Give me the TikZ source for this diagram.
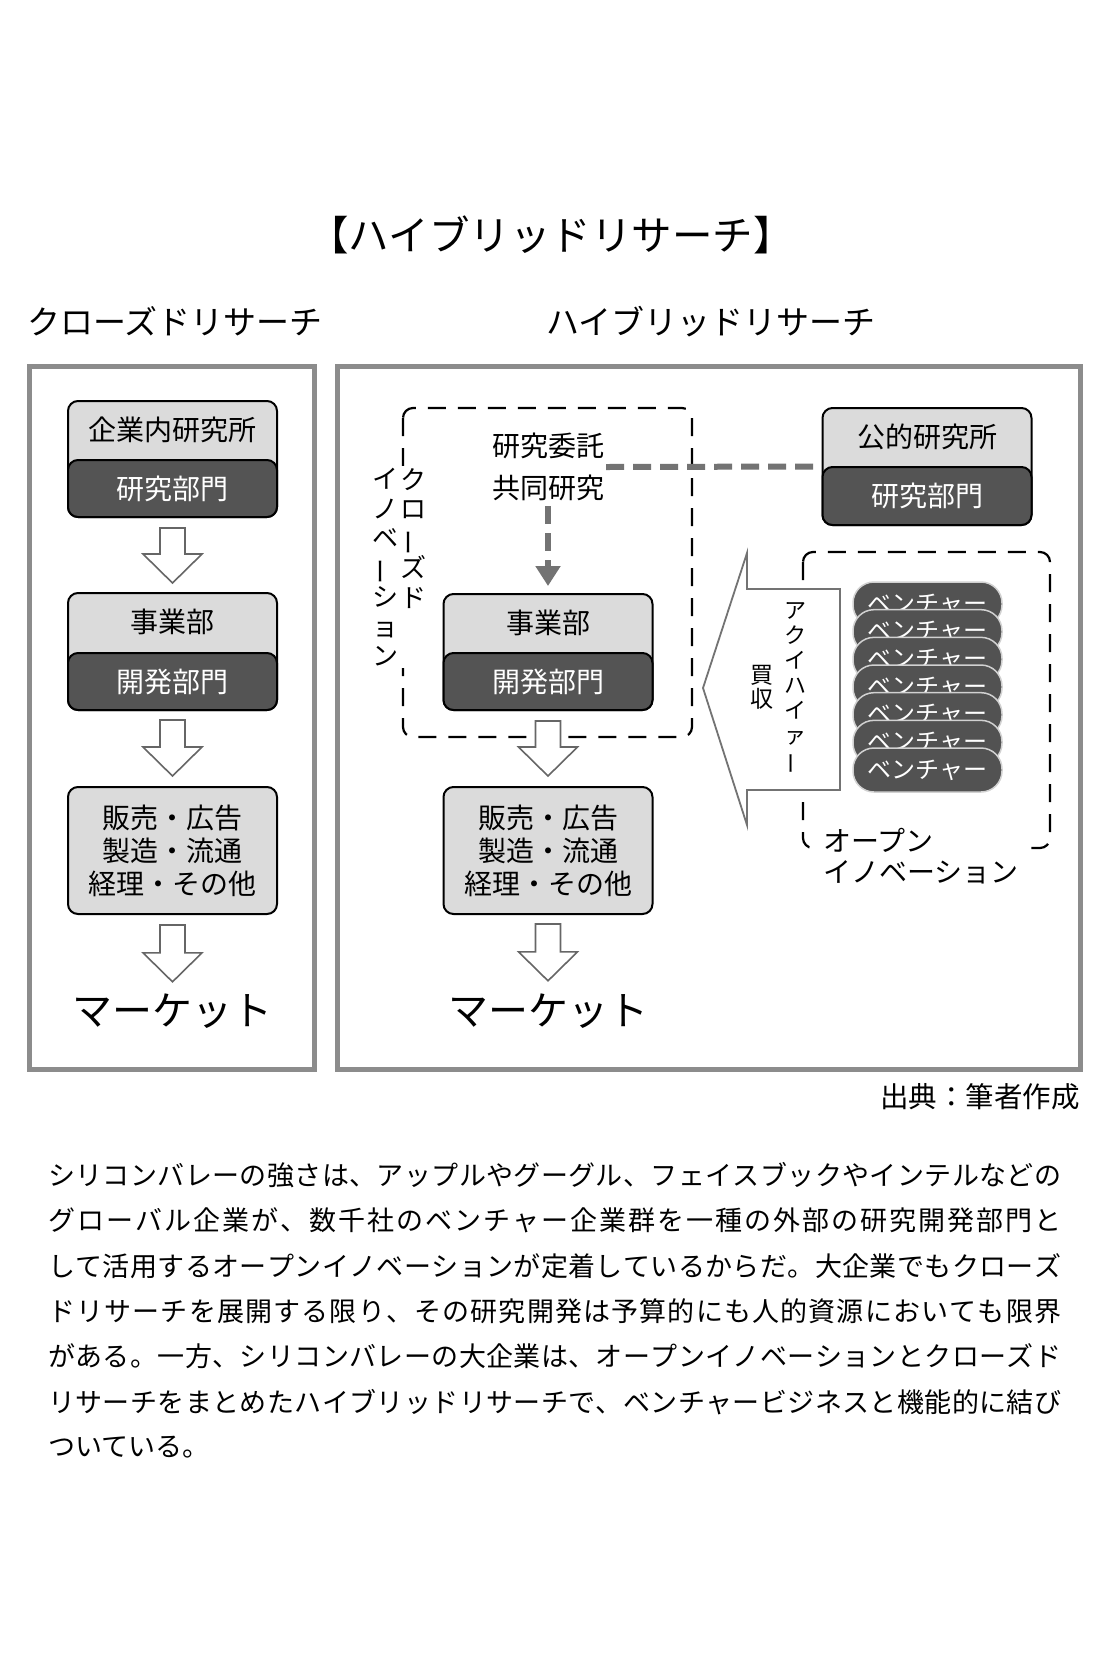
\documentclass[tikz,border=0pt]{standalone}
\usepackage{fontspec}
\usepackage{graphicx}
\usetikzlibrary{calc,arrows.meta}
\newfontfamily\jp{Noto Sans CJK JP}
\newcommand\fsz[2]{\fontsize{#1}{#2}\selectfont}
\newcommand\vbar{\rotatebox[origin=c]{90}{ー}}
\makeatletter
\def\spr@ad#1{\ifx\relax#1\else#1\hfil\expandafter\spr@ad\fi}
\newcommand\spreadline[1]{\hbox to 1013pt{\spr@ad#1\relax\unskip}}
\newcommand\spreadword[2]{\hbox to #1{\spr@ad#2\relax\unskip}}
\makeatother
\newcommand\blockarrow[2]{%
  \draw[blockarr] ($(#1)+(-12.5,0)$) -- ($(#1)+(12.5,0)$) -- ($(#2)+(12.5,-29)$) -- ($(#2)+(29.5,-29)$) -- (#2) -- ($(#2)+(-29.5,-29)$) -- ($(#2)+(-12.5,-29)$) -- cycle;}
\begin{document}
\begin{tikzpicture}[x=1pt,y=-1pt,
  frame/.style={draw=black!45,line width=5pt},
  lightbox/.style={draw=black,line width=2pt,fill=black!14,rounded corners=10pt,minimum width=209pt,inner sep=0pt},
  darkbox/.style={draw=black,line width=2pt,fill=black!67,rounded corners=10pt,minimum width=209pt,minimum height=57pt,inner sep=0pt,text=white,font=\jp\fsz{28}{28}},
  boxtext/.style={font=\jp\fsz{28}{28},inner sep=0pt},
  blockarr/.style={draw=black!60,line width=1.6pt,fill=white,line join=miter},
  market/.style={font=\jp\fsz{40}{40},inner sep=0pt,text height=32pt,text depth=8pt},
  bdash/.style={draw=black,line width=2.2pt,dash pattern=on 18pt off 12pt,rounded corners=10pt},
  gdash/.style={draw=black!55,line width=6pt,dash pattern=on 18pt off 9pt},
  pill/.style={draw=black!18,line width=1.5pt,fill=black!68,rounded corners=21pt,minimum width=149pt,minimum height=44pt,inner sep=0pt,text=white,font=\jp\fsz{24}{24}},
  vtext/.style={font=\jp\fsz{26}{29.5},align=center,fill=white,inner sep=2pt},
  heading/.style={font=\jp\fsz{33}{33},inner sep=0pt,anchor=west},
  para/.style={font=\jp\fsz{27}{27},inner sep=0pt,anchor=west}
]
\useasboundingbox (0,0) rectangle (1105,1679);
\fill[white] (0,0) rectangle (1105,1679);

% titles
\node[font=\jp\fsz{40.5}{40.5},inner sep=0pt] (title) at (551,235) {【ハイブリッドリサーチ】};
\node[heading] (hl) at (27,321.5) {クローズドリサーチ};
\node[heading] (hr) at (546,321.5) {ハイブリッドリサーチ};

% frames
\draw[frame] (29.5,366) rectangle (314.5,1069.5);
\draw[frame] (337.5,366) rectangle (1080.5,1069.5);

% left column
\node[lightbox,minimum height=116pt] (A1) at (172.5,459) {};
\node[darkbox,anchor=south] (A1d) at (A1.south) {研究部門};
\node[boxtext] (A1t) at ($(A1.north)+(0,29.5)$) {企業内研究所};
\node[lightbox,minimum height=117pt] (A2) at (172.5,651.5) {};
\node[darkbox,anchor=south] (A2d) at (A2.south) {開発部門};
\node[boxtext] (A2t) at ($(A2.north)+(0,30)$) {事業部};
\node[lightbox,minimum height=127pt,font=\jp\fsz{28}{33},align=center] (A3) at (172.5,850.5) {販売・広告\\製造・流通\\経理・その他};
\node[market] (M1) at (172.5,1013) {\spreadword{200pt}{マーケット}};
\coordinate (p1) at ($(A1.south)+(0,10)$);
\coordinate (q1) at ($(A2.north)+(0,-9)$);
\coordinate (p2) at ($(A2.south)+(0,9)$);
\coordinate (q2) at ($(A3.north)+(0,-10)$);
\coordinate (p3) at ($(A3.south)+(0,10)$);
\coordinate (q3) at ($(M1.north)+(0,-11)$);
\blockarrow{p1}{q1}
\blockarrow{p2}{q2}
\blockarrow{p3}{q3}

% closed innovation area
\draw[bdash] (403,408) rectangle (692,737);
\node[vtext,anchor=north,minimum width=44pt] (ci2) at (385,466) {イ\\ノ\\ベ\\\vbar\\シ\\ョ\\ン};
\node[vtext,anchor=north] (ci1) at (413,466) {ク\\ロ\\\vbar\\ズ\\ド};
\node[font=\jp\fsz{28}{42},align=center,inner sep=2pt] (RC) at (548,467) {研究委託\\共同研究};

% right column
\node[lightbox,minimum height=116pt] (B2) at (548,652) {};
\node[darkbox,anchor=south] (B2d) at (B2.south) {開発部門};
\node[boxtext] (B2t) at ($(B2.north)+(0,29.5)$) {事業部};
\node[lightbox,minimum height=127pt,font=\jp\fsz{28}{33},align=center] (B3) at (548,850.5) {販売・広告\\製造・流通\\経理・その他};
\node[market] (M2) at (548,1013) {\spreadword{200pt}{マーケット}};
\coordinate (r1) at ($(B2.south)+(0,10)$);
\coordinate (s1) at ($(B3.north)+(0,-10)$);
\coordinate (r2) at ($(B3.south)+(0,9)$);
\coordinate (s2) at ($(M2.north)+(0,-12)$);
\blockarrow{r1}{s1}
\blockarrow{r2}{s2}

% public research institute
\node[lightbox,minimum height=117pt] (C1) at (927,466.5) {};
\node[darkbox,anchor=south,minimum height=58pt] (C1d) at (C1.south) {研究部門};
\node[boxtext] (C1t) at ($(C1.north)+(0,29.5)$) {公的研究所};

% gray dashed connectors
\draw[gdash] (RC.east) -- (C1.west);
\draw[gdash,-{Triangle[width=24pt,length=20pt]},shorten <=3pt,shorten >=7pt] (RC.south) -- (B2.north);

% open innovation area
\draw[bdash] (803,552) rectangle (1050,848);
\draw[draw=black!55,line width=1.8pt,fill=white,line join=miter]
  (703,688) -- (747,553) -- (747,589) -- (840,589) -- (840,790) -- (747,790) -- (747,825) -- cycle;
\node[font=\jp\fsz{22}{25},align=center,inner sep=0pt,anchor=north] (acq) at (795,602) {ア\\ク\\イ\\ハ\\イ\\ァ\\\vbar};
\node[font=\jp\fsz{23}{24},align=center,inner sep=0pt] (buy) at (762,687.5) {買\\収};
\foreach \i in {0,...,6}
  \node[pill] (v\i) at (927.5,{604+27.667*\i}) {ベンチャー};
\node[font=\jp\fsz{28}{31},align=left,fill=white,inner sep=2pt,anchor=north west] (oi) at (821,826) {オープン\\イノベーション};

% source
\node[font=\jp\fsz{28.5}{28.5},inner sep=0pt,anchor=east] (src) at (1080,1097) {出典：筆者作成};

% paragraph
\node[para] (l1) at (48,1175) {\spreadline{シリコンバレーの強さは、アップルやグーグル、フェイスブックやインテルなどの}};
\node[para] (l2) at (48,1220.5) {\spreadline{グローバル企業が、数千社のベンチャー企業群を一種の外部の研究開発部門と}};
\node[para] (l3) at (48,1266) {\spreadline{して活用するオープンイノベーションが定着しているからだ。大企業でもクローズ}};
\node[para] (l4) at (48,1311) {\spreadline{ドリサーチを展開する限り、その研究開発は予算的にも人的資源においても限界}};
\node[para] (l5) at (48,1356.5) {\spreadline{がある。一方、シリコンバレーの大企業は、オープンイノベーションとクローズド}};
\node[para] (l6) at (48,1402) {\spreadline{リサーチをまとめたハイブリッドリサーチで、ベンチャービジネスと機能的に結び}};
\node[para] (l7) at (48,1447.5) {ついている。};
\end{tikzpicture}
\end{document}
